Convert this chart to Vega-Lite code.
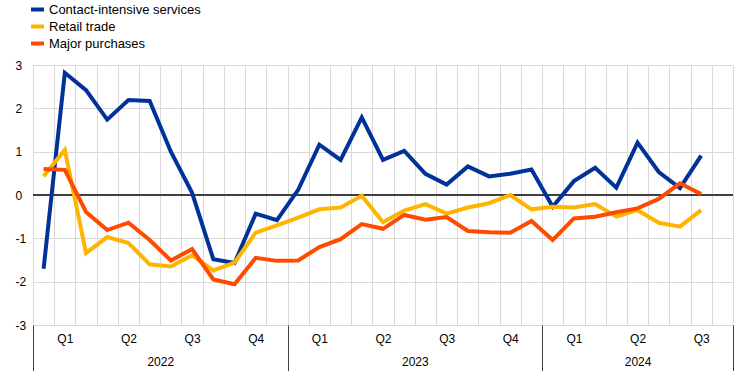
{
  "$schema": "https://vega.github.io/schema/vega-lite/v6.json",
  "width": 700,
  "height": 260,
  "autosize": {"type": "none"},
  "padding": {"left": 33, "top": 65, "right": 9, "bottom": 46},
  "background": "white",
  "config": {
    "view": {"stroke": null},
    "font": "Liberation Sans",
    "axis": {"labelFont": "Liberation Sans", "labelFontSize": 12, "labelColor": "#000000"}
  },
  "data": {
    "values": [
      {"m": 0, "month": "2022-01", "Contact-intensive services": -1.70, "Retail trade": 0.43, "Major purchases": 0.60},
      {"m": 1, "month": "2022-02", "Contact-intensive services": 2.82, "Retail trade": 1.04, "Major purchases": 0.58},
      {"m": 2, "month": "2022-03", "Contact-intensive services": 2.42, "Retail trade": -1.34, "Major purchases": -0.39},
      {"m": 3, "month": "2022-04", "Contact-intensive services": 1.74, "Retail trade": -0.97, "Major purchases": -0.81},
      {"m": 4, "month": "2022-05", "Contact-intensive services": 2.19, "Retail trade": -1.11, "Major purchases": -0.64},
      {"m": 5, "month": "2022-06", "Contact-intensive services": 2.17, "Retail trade": -1.60, "Major purchases": -1.04},
      {"m": 6, "month": "2022-07", "Contact-intensive services": 1.00, "Retail trade": -1.65, "Major purchases": -1.51},
      {"m": 7, "month": "2022-08", "Contact-intensive services": 0.05, "Retail trade": -1.39, "Major purchases": -1.25},
      {"m": 8, "month": "2022-09", "Contact-intensive services": -1.48, "Retail trade": -1.74, "Major purchases": -1.95},
      {"m": 9, "month": "2022-10", "Contact-intensive services": -1.57, "Retail trade": -1.56, "Major purchases": -2.06},
      {"m": 10, "month": "2022-11", "Contact-intensive services": -0.43, "Retail trade": -0.87, "Major purchases": -1.45},
      {"m": 11, "month": "2022-12", "Contact-intensive services": -0.58, "Retail trade": -0.70, "Major purchases": -1.52},
      {"m": 12, "month": "2023-01", "Contact-intensive services": 0.12, "Retail trade": -0.52, "Major purchases": -1.51},
      {"m": 13, "month": "2023-02", "Contact-intensive services": 1.16, "Retail trade": -0.33, "Major purchases": -1.20},
      {"m": 14, "month": "2023-03", "Contact-intensive services": 0.81, "Retail trade": -0.29, "Major purchases": -1.02},
      {"m": 15, "month": "2023-04", "Contact-intensive services": 1.79, "Retail trade": -0.02, "Major purchases": -0.67},
      {"m": 16, "month": "2023-05", "Contact-intensive services": 0.81, "Retail trade": -0.63, "Major purchases": -0.78},
      {"m": 17, "month": "2023-06", "Contact-intensive services": 1.02, "Retail trade": -0.36, "Major purchases": -0.46},
      {"m": 18, "month": "2023-07", "Contact-intensive services": 0.49, "Retail trade": -0.21, "Major purchases": -0.57},
      {"m": 19, "month": "2023-08", "Contact-intensive services": 0.24, "Retail trade": -0.43, "Major purchases": -0.51},
      {"m": 20, "month": "2023-09", "Contact-intensive services": 0.66, "Retail trade": -0.29, "Major purchases": -0.83},
      {"m": 21, "month": "2023-10", "Contact-intensive services": 0.43, "Retail trade": -0.19, "Major purchases": -0.86},
      {"m": 22, "month": "2023-11", "Contact-intensive services": 0.49, "Retail trade": 0.00, "Major purchases": -0.87},
      {"m": 23, "month": "2023-12", "Contact-intensive services": 0.59, "Retail trade": -0.33, "Major purchases": -0.60},
      {"m": 24, "month": "2024-01", "Contact-intensive services": -0.27, "Retail trade": -0.27, "Major purchases": -1.04},
      {"m": 25, "month": "2024-02", "Contact-intensive services": 0.32, "Retail trade": -0.29, "Major purchases": -0.54},
      {"m": 26, "month": "2024-03", "Contact-intensive services": 0.63, "Retail trade": -0.21, "Major purchases": -0.50},
      {"m": 27, "month": "2024-04", "Contact-intensive services": 0.17, "Retail trade": -0.50, "Major purchases": -0.40},
      {"m": 28, "month": "2024-05", "Contact-intensive services": 1.21, "Retail trade": -0.35, "Major purchases": -0.31},
      {"m": 29, "month": "2024-06", "Contact-intensive services": 0.53, "Retail trade": -0.64, "Major purchases": -0.09},
      {"m": 30, "month": "2024-07", "Contact-intensive services": 0.16, "Retail trade": -0.73, "Major purchases": 0.27},
      {"m": 31, "month": "2024-08", "Contact-intensive services": 0.91, "Retail trade": -0.35, "Major purchases": 0.02}
    ]
  },
  "resolve": {"axis": {"x": "independent"}},
  "layer": [
    {
      "mark": {"type": "rule", "color": "#404040", "strokeWidth": 1},
      "encoding": {
        "x": {
          "datum": -0.5, "type": "quantitative",
          "scale": {"domain": [-0.5, 32.5], "nice": false, "zero": false},
          "axis": {
            "orient": "bottom",
            "values": [-0.5, 5.5, 11.5, 17.5, 23.5, 28, 32.5],
            "labelExpr": "datum.value == 5.5 ? '2022' : datum.value == 17.5 ? '2023' : datum.value == 28 ? '2024' : ''",
            "grid": false, "domain": false, "title": null,
            "ticks": true, "tickSize": 46, "tickColor": "#404040", "tickWidth": 1,
            "tickOpacity": {"condition": {"test": "datum.value == 5.5 || datum.value == 17.5 || datum.value == 28", "value": 0}, "value": 1},
            "labelPadding": -15, "labelFlush": false, "labelOverlap": false
          }
        },
        "x2": {"datum": 32.5},
        "y": {"datum": 0, "type": "quantitative"}
      }
    },
    {
      "transform": [{"fold": ["Contact-intensive services", "Retail trade", "Major purchases"], "as": ["series", "value"]}],
      "mark": {"type": "line", "strokeWidth": 4},
      "encoding": {
        "x": {
          "field": "m", "type": "quantitative",
          "scale": {"domain": [-0.5, 32.5], "nice": false, "zero": false},
          "axis": {
            "orient": "bottom",
            "values": [-0.5, 0.5, 1, 1.5, 2.5, 3.5, 4, 4.5, 5.5, 6.5, 7, 7.5, 8.5, 9.5, 10, 10.5, 11.5, 12.5, 13, 13.5, 14.5, 15.5, 16, 16.5, 17.5, 18.5, 19, 19.5, 20.5, 21.5, 22, 22.5, 23.5, 24.5, 25, 25.5, 26.5, 27.5, 28, 28.5, 29.5, 30.5, 31, 31.5, 32.5],
            "labelExpr": "datum.value % 1 != 0 ? '' : 'Q' + (floor((datum.value % 12) / 3) + 1)",
            "grid": true, "gridColor": "#d9d9d9", "gridWidth": 1,
            "gridOpacity": {"condition": {"test": "datum.value % 1 == 0", "value": 0}, "value": 1},
            "ticks": false, "domain": false, "title": null,
            "labelPadding": 8, "labelFlush": false, "labelOverlap": false
          }
        },
        "y": {
          "field": "value", "type": "quantitative",
          "scale": {"domain": [-3, 3], "nice": false, "zero": false},
          "axis": {
            "values": [-3, -2, -1, 0, 1, 2, 3],
            "labelExpr": "'' + datum.value",
            "grid": true, "gridColor": "#d9d9d9", "gridWidth": 1,
            "ticks": false, "domain": false, "title": null,
            "labelAlign": "left", "labelBaseline": "middle", "labelPadding": 18
          }
        },
        "color": {
          "field": "series", "type": "nominal",
          "scale": {"domain": ["Contact-intensive services", "Retail trade", "Major purchases"], "range": ["#003299", "#FFB400", "#FF4B00"]},
          "legend": {
            "title": null, "orient": "none", "legendX": -4, "legendY": -64,
            "direction": "vertical", "padding": 0,
            "symbolType": "stroke", "symbolSize": 169, "symbolStrokeWidth": 4,
            "labelFont": "Liberation Sans", "labelFontSize": 13, "labelColor": "#000000",
            "labelOffset": 3, "rowPadding": 0
          }
        }
      }
    }
  ]
}
